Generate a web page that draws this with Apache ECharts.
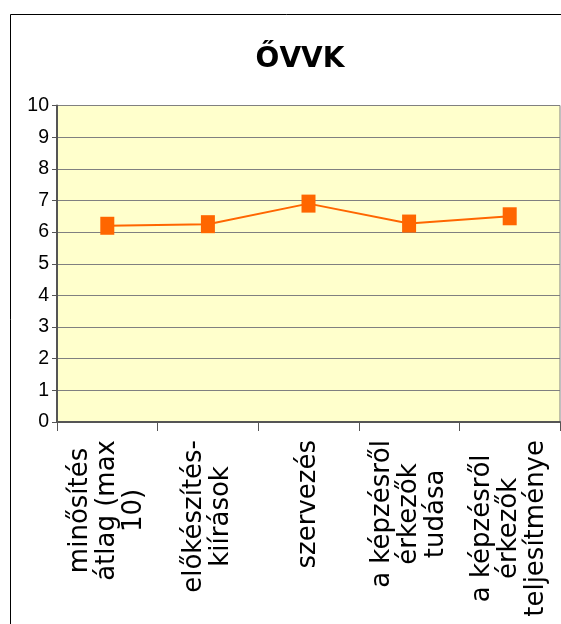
<!DOCTYPE html>
<html>
<head>
<meta charset="utf-8">
<script src="https://cdn.jsdelivr.net/npm/echarts@6/dist/echarts.min.js"></script>
<style>
html,body{margin:0;padding:0;background:#fff;}
#chart{width:561px;height:624px;}
</style>
</head>
<body>
<div id="chart"></div>
<script>
var titleText = 'ŐVVK';
var categories = [
  'minősítés\nátlag (max\n10)',
  'előkészítés-\nkiírások',
  'szervezés',
  'a képzésről\nérkezők\ntudása',
  'a képzésről\nérkezők\nteljesítménye'
];
var values = [6.2, 6.25, 6.9, 6.27, 6.5];
var yTicks = [0, 1, 2, 3, 4, 5, 6, 7, 8, 9, 10];

var chart = echarts.init(document.getElementById('chart'), null, {renderer: 'canvas'});
chart.setOption({
  animation: false,
  backgroundColor: '#ffffff',
  title: {
    text: titleText,
    left: 295,
    top: 41,
    textAlign: 'center',
    textStyle: {
      fontFamily: 'DejaVu Sans',
      fontWeight: 'bold',
      fontSize: 28,
      color: '#000'
    }
  },
  graphic: [{
    type: 'rect',
    silent: true,
    z: -10,
    shape: {x: 10.5, y: 14.5, width: 700, height: 800},
    style: {fill: 'none', stroke: '#000', lineWidth: 1}
  }],
  grid: {
    left: 57,
    right: 1,
    top: 105.5,
    bottom: 202,
    show: true,
    backgroundColor: '#FFFFCC',
    borderColor: '#808080',
    borderWidth: 1
  },
  xAxis: {
    type: 'category',
    data: categories,
    boundaryGap: true,
    axisLine: {show: true, lineStyle: {color: '#555', width: 2}},
    axisTick: {show: true, length: 9, alignWithLabel: false, lineStyle: {color: '#555', width: 1}},
    splitLine: {show: false},
    axisLabel: {
      interval: 0,
      rotate: 90,
      margin: 18,
      color: '#000',
      fontFamily: 'DejaVu Sans',
      fontSize: 26,
      lineHeight: 27,
      formatter: function (v) {
        return v.split('\n').map(function (s) { return '{c|' + s + '}'; }).join('\n');
      },
      rich: {
        c: {
          align: 'center',
          fontFamily: 'DejaVu Sans',
          fontSize: 26,
          lineHeight: 27,
          color: '#000'
        }
      }
    }
  },
  yAxis: {
    type: 'value',
    min: 0,
    max: 10,
    interval: 1,
    axisLine: {show: true, lineStyle: {color: '#555', width: 2}},
    axisTick: {show: true, length: 5, lineStyle: {color: '#555', width: 1}},
    splitLine: {show: true, lineStyle: {color: '#808080', width: 1.2}},
    axisLabel: {
      margin: 8,
      color: '#000',
      fontFamily: 'Liberation Sans',
      fontSize: 19.5,
      formatter: function (v) { return yTicks.indexOf(v) >= 0 ? String(v) : ''; }
    }
  },
  series: [{
    type: 'line',
    data: values,
    symbol: 'rect',
    symbolSize: [14, 18],
    lineStyle: {color: '#FF6600', width: 2},
    itemStyle: {color: '#FF6600'},
    z: 5
  }]
});
</script>
</body>
</html>
